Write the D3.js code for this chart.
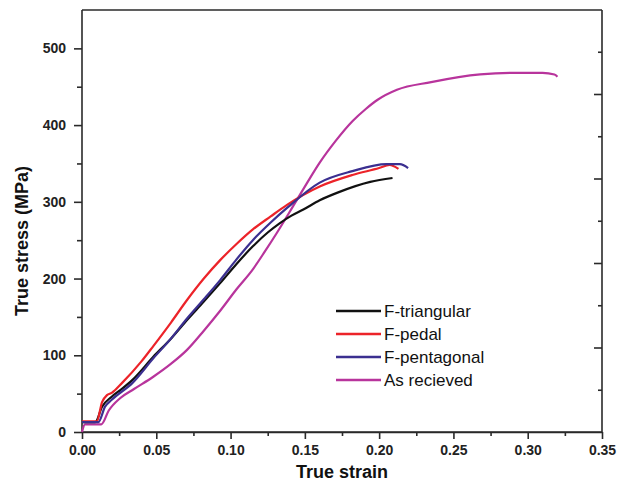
<!DOCTYPE html>
<html>
<head>
<meta charset="utf-8">
<script src="https://cdn.jsdelivr.net/npm/d3@7"></script>
<style>
  html, body { margin: 0; padding: 0; background: #fff; }
  svg { display: block; }
  text { font-family: "Liberation Sans", Arial, sans-serif; }
</style>
</head>
<body>
<svg id="chart" width="624" height="491"></svg>
<script>
// ---- data ----
const seriesNames = ["F-triangular", "F-pedal", "F-pentagonal", "As recieved"];
const seriesColors = ["#111111", "#ec2329", "#3b2f90", "#b8349c"];

const triStrain = [0, 0.009, 0.0135, 0.020, 0.026, 0.034, 0.048, 0.060, 0.0707, 0.082, 0.093, 0.104, 0.115, 0.125, 0.133, 0.141, 0.149, 0.160, 0.172, 0.194, 0.209];
const triStress = [13, 13, 33, 46, 55, 68, 98, 122, 146, 170, 194, 219, 242, 260, 272, 282, 290, 302, 312, 326, 331];

const pedStrain = [0, 0.010, 0.0135, 0.0168, 0.020, 0.027, 0.040, 0.048, 0.060, 0.0707, 0.082, 0.093, 0.104, 0.115, 0.127, 0.138, 0.160, 0.182, 0.200, 0.207, 0.213];
const pedStress = [14, 14, 39, 48, 51, 64, 92, 112, 143, 172, 200, 224, 245, 264, 281, 296, 320, 335, 344, 348, 343];

const penStrain = [0, 0.011, 0.0155, 0.020, 0.034, 0.048, 0.060, 0.0707, 0.082, 0.093, 0.104, 0.115, 0.127, 0.138, 0.160, 0.182, 0.205, 0.214, 0.2195];
const penStress = [13, 13, 33, 42, 64, 96, 122, 148, 173, 198, 225, 250, 273, 292, 325, 340, 349, 349, 344];

const asrStrain = [0, 0.002, 0.013, 0.018, 0.0256, 0.035, 0.048, 0.060, 0.0707, 0.082, 0.093, 0.104, 0.115, 0.123, 0.131, 0.142, 0.151, 0.160, 0.171, 0.182, 0.191, 0.199, 0.212, 0.235, 0.268, 0.290, 0.310, 0.318, 0.320];
const asrStress = [0, 10, 10, 28, 44, 56, 72, 89, 107, 132, 158, 186, 212, 235, 259, 294, 323, 351, 380, 405, 421, 433, 446, 456, 466, 468, 468, 466, 463];

const xTicks = [0, 0.05, 0.10, 0.15, 0.20, 0.25, 0.30, 0.35];
const xMinorTicks = [0.025, 0.075, 0.125, 0.175, 0.225, 0.275, 0.325];
const yTicks = [0, 100, 200, 300, 400, 500];
const yMinorTicks = [50, 150, 250, 350, 450];
const rightTicksMajor = [2, 4, 6, 8];
const rightTicksMinor = [1, 3, 5, 7, 9];

// ---- layout ----
const L = 82, R = 602, T = 10, B = 432;
const svg = d3.select("#chart");
svg.append("rect").attr("width", 624).attr("height", 491).attr("fill", "#fff");

const x = d3.scaleLinear().domain([0, 0.35]).range([L, R]);
const y = d3.scaleLinear().domain([0, 550]).range([B, T]);
const y2 = d3.scaleLinear().domain([0, 10]).range([B, T - 0.5]);

const axisColor = "#2a2a2a";

function styleAxis(g) {
  g.selectAll("path.domain").attr("stroke", axisColor).attr("stroke-width", 1.6);
  g.selectAll(".tick line").attr("stroke", axisColor).attr("stroke-width", 1.6);
  g.selectAll(".tick text").attr("fill", "#222").attr("font-weight", "bold").attr("font-size", 14)
    .attr("font-family", "\"Liberation Sans\", Arial, sans-serif");
}

// minor ticks first
svg.append("g").attr("transform", `translate(0,${B})`)
  .call(d3.axisBottom(x).tickValues(xMinorTicks).tickSize(4).tickFormat("").tickSizeOuter(0))
  .call(styleAxis);
svg.append("g").attr("transform", `translate(${L},0)`)
  .call(d3.axisLeft(y).tickValues(yMinorTicks).tickSize(5).tickFormat("").tickSizeOuter(0))
  .call(g => g.select("path.domain").remove())
  .call(styleAxis);

// major axes
svg.append("g").attr("transform", `translate(0,${B})`)
  .call(d3.axisBottom(x).tickValues(xTicks).tickSize(7).tickPadding(6)
        .tickFormat(d3.format(".2f")).tickSizeOuter(0))
  .call(g => g.select("path.domain").attr("d", `M${L},0H${R}`))
  .call(styleAxis);

svg.append("g").attr("transform", `translate(${L},0)`)
  .call(d3.axisLeft(y).tickValues(yTicks).tickSize(8).tickPadding(8).tickSizeOuter(0))
  .call(g => g.select("path.domain").attr("d", `M0,${B}V${T}`))
  .call(styleAxis);

// top axis line (no ticks)
svg.append("g").attr("transform", `translate(0,${T})`)
  .call(d3.axisTop(x).tickValues([]).tickSizeOuter(0))
  .call(g => g.select("path.domain").attr("d", `M${L},0H${R}`))
  .call(styleAxis);

// right axis: inward ticks
svg.append("g").attr("transform", `translate(${R},0)`)
  .call(d3.axisRight(y2).tickValues(rightTicksMinor).tickSize(-4).tickFormat("").tickSizeOuter(0))
  .call(g => g.select("path.domain").remove())
  .call(styleAxis);
svg.append("g").attr("transform", `translate(${R},0)`)
  .call(d3.axisRight(y2).tickValues(rightTicksMajor).tickSize(-8).tickFormat("").tickSizeOuter(0))
  .call(g => g.select("path.domain").attr("d", `M0,${B}V${T}`))
  .call(styleAxis);

// ---- series ----
const series = [
  { name: seriesNames[0], color: seriesColors[0], xs: triStrain, ys: triStress },
  { name: seriesNames[1], color: seriesColors[1], xs: pedStrain, ys: pedStress },
  { name: seriesNames[2], color: seriesColors[2], xs: penStrain, ys: penStress },
  { name: seriesNames[3], color: seriesColors[3], xs: asrStrain, ys: asrStress }
];

const line = d3.line()
  .x(d => x(d[0]))
  .y(d => y(d[1]))
  .curve(d3.curveMonotoneX);

const drawOrder = [3, 0, 1, 2];
drawOrder.forEach(i => {
  const s = series[i];
  const pts = s.xs.map((v, k) => [v, s.ys[k]]);
  svg.append("path")
    .attr("d", line(pts))
    .attr("fill", "none")
    .attr("stroke", s.color)
    .attr("stroke-width", 2.2)
    .attr("stroke-linejoin", "round");
});

// ---- legend ----
const legendRows = [311, 334, 357, 380];
const lg = svg.append("g");
series.forEach((s, i) => {
  lg.append("line")
    .attr("x1", 336).attr("x2", 381)
    .attr("y1", legendRows[i]).attr("y2", legendRows[i])
    .attr("stroke", s.color).attr("stroke-width", 2.5);
  lg.append("text")
    .attr("x", 384).attr("y", legendRows[i]).attr("dy", "0.36em")
    .attr("font-size", 17).attr("fill", "#111")
    .text(s.name);
});

// ---- axis titles ----
svg.append("text")
  .attr("x", (L + R) / 2).attr("y", 478)
  .attr("text-anchor", "middle")
  .attr("font-size", 18).attr("font-weight", "bold").attr("fill", "#111")
  .text("True strain");

svg.append("text")
  .attr("transform", "translate(28,241) rotate(-90)")
  .attr("text-anchor", "middle")
  .attr("font-size", 18).attr("font-weight", "bold").attr("fill", "#111")
  .text("True stress (MPa)");
</script>
</body>
</html>
